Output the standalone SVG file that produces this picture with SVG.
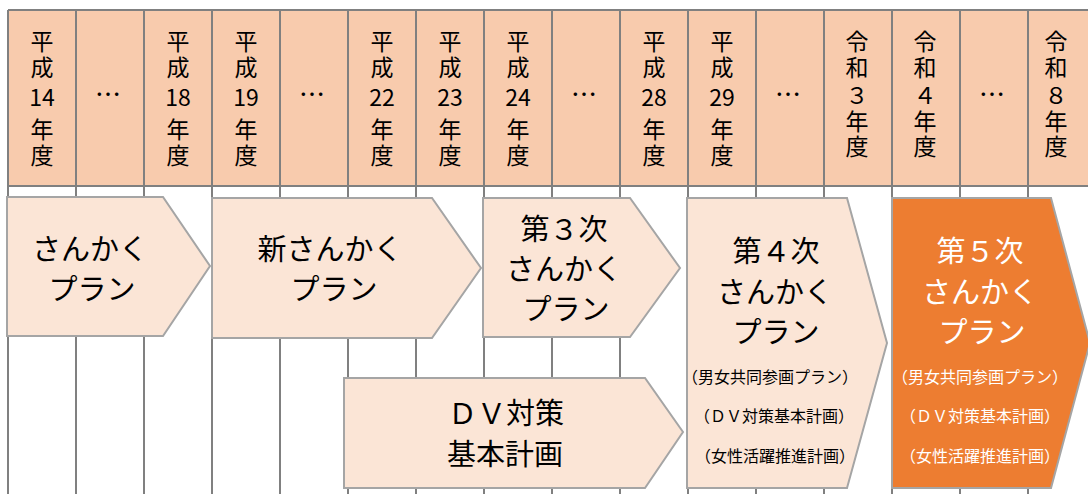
<svg xmlns="http://www.w3.org/2000/svg" width="1088" height="494" viewBox="0 0 1088 494">
<style>
.hd{font-family:"Noto Sans CJK JP","Noto Sans CJK SC",sans-serif;font-size:23px;fill:#000;text-anchor:middle}
.el{font-family:"Noto Sans CJK JP","Noto Sans CJK SC",sans-serif;font-size:26px;fill:#000;text-anchor:middle}
.gl{stroke:#808080;stroke-width:2;fill:none}
.sh{fill:#FBE5D6;stroke:#A5A5A5;stroke-width:2}
.sh5{fill:#ED7D31;stroke:#A5A5A5;stroke-width:2}
.big{font-family:"Noto Sans CJK JP","Noto Sans CJK SC",sans-serif;font-size:29px;fill:#000;text-anchor:middle}
.sm{font-family:"Noto Sans CJK JP","Noto Sans CJK SC",sans-serif;font-size:16px;fill:#000;text-anchor:middle}
.w{fill:#fff}
</style>
<rect x="0" y="0" width="1088" height="494" fill="#fff"/>
<g id="header">
<rect x="8" y="10" width="1080" height="176" fill="#F8CBAD"/>
<text class="hd"><tspan x="42" y="50">平</tspan><tspan x="42" y="76">成</tspan><tspan x="42" y="106">14</tspan><tspan x="42" y="138">年</tspan><tspan x="42" y="164">度</tspan></text>
<text class="el" x="108" y="104">…</text>
<text class="hd"><tspan x="178" y="50">平</tspan><tspan x="178" y="76">成</tspan><tspan x="178" y="106">18</tspan><tspan x="178" y="138">年</tspan><tspan x="178" y="164">度</tspan></text>
<text class="hd"><tspan x="246" y="50">平</tspan><tspan x="246" y="76">成</tspan><tspan x="246" y="106">19</tspan><tspan x="246" y="138">年</tspan><tspan x="246" y="164">度</tspan></text>
<text class="el" x="312" y="104">…</text>
<text class="hd"><tspan x="382" y="50">平</tspan><tspan x="382" y="76">成</tspan><tspan x="382" y="106">22</tspan><tspan x="382" y="138">年</tspan><tspan x="382" y="164">度</tspan></text>
<text class="hd"><tspan x="450" y="50">平</tspan><tspan x="450" y="76">成</tspan><tspan x="450" y="106">23</tspan><tspan x="450" y="138">年</tspan><tspan x="450" y="164">度</tspan></text>
<text class="hd"><tspan x="518" y="50">平</tspan><tspan x="518" y="76">成</tspan><tspan x="518" y="106">24</tspan><tspan x="518" y="138">年</tspan><tspan x="518" y="164">度</tspan></text>
<text class="el" x="584" y="104">…</text>
<text class="hd"><tspan x="654" y="50">平</tspan><tspan x="654" y="76">成</tspan><tspan x="654" y="106">28</tspan><tspan x="654" y="138">年</tspan><tspan x="654" y="164">度</tspan></text>
<text class="hd"><tspan x="722" y="50">平</tspan><tspan x="722" y="76">成</tspan><tspan x="722" y="106">29</tspan><tspan x="722" y="138">年</tspan><tspan x="722" y="164">度</tspan></text>
<text class="el" x="788" y="104">…</text>
<text class="hd"><tspan x="857" y="50">令</tspan><tspan x="857" y="76">和</tspan><tspan x="857" y="104">３</tspan><tspan x="857" y="130">年</tspan><tspan x="857" y="155">度</tspan></text>
<text class="hd"><tspan x="925" y="50">令</tspan><tspan x="925" y="76">和</tspan><tspan x="925" y="104">４</tspan><tspan x="925" y="130">年</tspan><tspan x="925" y="155">度</tspan></text>
<text class="el" x="992" y="104">…</text>
<text class="hd"><tspan x="1056" y="50">令</tspan><tspan x="1056" y="76">和</tspan><tspan x="1056" y="104">８</tspan><tspan x="1056" y="130">年</tspan><tspan x="1056" y="155">度</tspan></text>
</g>
<g id="grid" class="gl">
<line x1="8" y1="10" x2="1088" y2="10"/>
<line x1="8" y1="186" x2="1088" y2="186"/>
<path d="M8 10V494M76 10V494M144 10V494M212 10V494M280 10V494M348 10V494M416 10V494M484 10V494M552 10V494M620 10V494M688 10V494M756 10V494M824 10V494M892 10V494M960 10V494M1028 10V494"/>
</g>
<g id="plan1">
<polygon class="sh" points="7,197 163,197 210,266 163,336 7,336"/>
<text class="big"><tspan x="90" y="260">さんかく</tspan><tspan x="92" y="300">プラン</tspan></text>
</g>
<g id="plan2">
<polygon class="sh" points="212,198 432,198 481,268 432,338 212,338"/>
<text class="big"><tspan x="330" y="260">新さんかく</tspan><tspan x="334" y="300">プラン</tspan></text>
</g>
<g id="plan3">
<polygon class="sh" points="483,198 630,198 680,268 630,337 483,337"/>
<text class="big"><tspan x="564" y="240">第３次</tspan><tspan x="564" y="280">さんかく</tspan><tspan x="566" y="320">プラン</tspan></text>
</g>
<g id="dv">
<polygon class="sh" points="344,378 645,378 683,432 645,488 344,488"/>
<text class="big"><tspan x="506" y="424">ＤＶ対策</tspan><tspan x="505" y="465">基本計画</tspan></text>
</g>
<g id="plan4">
<polygon class="sh" points="687,198 847,198 887,343 847,488 687,488"/>
<text class="big"><tspan x="776" y="262">第４次</tspan><tspan x="775" y="303">さんかく</tspan><tspan x="776" y="343">プラン</tspan></text>
<text class="sm"><tspan x="770" y="383">（男女共同参画プラン）</tspan><tspan x="774" y="422">（ＤＶ対策基本計画）</tspan><tspan x="775" y="462">（女性活躍推進計画）</tspan></text>
</g>
<g id="plan5">
<polygon class="sh5" points="892,198 1051,198 1090,343 1051,488 892,488"/>
<text class="big w"><tspan x="980" y="262">第５次</tspan><tspan x="980" y="303">さんかく</tspan><tspan x="982" y="343">プラン</tspan></text>
<text class="sm w"><tspan x="980" y="383">（男女共同参画プラン）</tspan><tspan x="980" y="422">（ＤＶ対策基本計画）</tspan><tspan x="980" y="462">（女性活躍推進計画）</tspan></text>
</g>
</svg>
